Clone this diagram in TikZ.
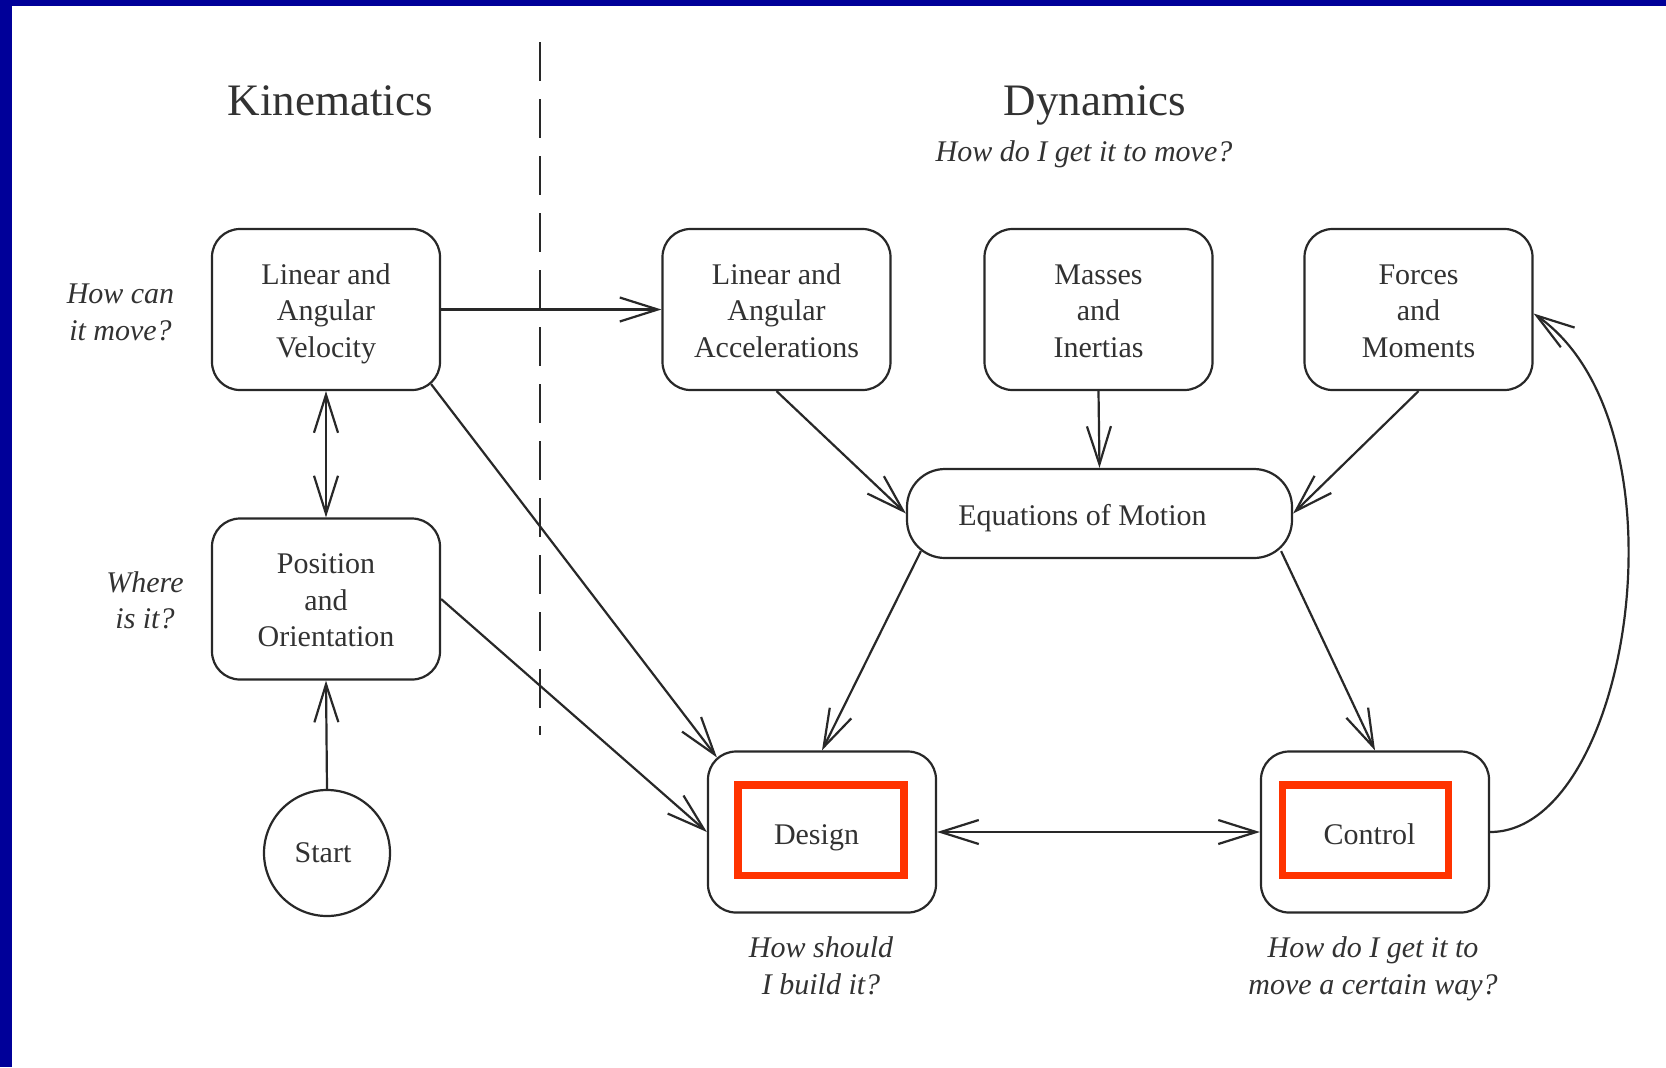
\documentclass[tikz,border=0pt]{standalone}
\usepackage{fontspec}
\setmainfont{Liberation Serif}
\usetikzlibrary{arrows.meta,calc}
\definecolor{frameblue}{RGB}{0,0,153}
\definecolor{hlred}{RGB}{255,51,0}
\definecolor{ink}{RGB}{40,40,40}
\definecolor{txt}{RGB}{50,50,50}
\newcommand{\boxfont}{\fontsize{15}{18.25}\selectfont}
\newcommand{\qfont}{\fontsize{15}{18.25}\selectfont\itshape}
\newcommand{\titlefont}{\fontsize{22.5}{27}\selectfont}
\newcommand{\fl}{\rule{0pt}{14.5pt}}
\newcommand{\lastl}{\rule[-3.3pt]{0pt}{3.3pt}}
\begin{document}
\begin{tikzpicture}[x=0.5pt,y=-0.5pt,
  box/.style={draw=ink, line width=1.1pt, rounded corners=14pt, minimum width=114pt,
    minimum height=80.5pt, inner sep=0pt, align=center, text=txt, font=\boxfont},
  eombox/.style={box, rounded corners=19pt, minimum width=192.5pt, minimum height=44.5pt,
    text height=15.5pt, text depth=3.3pt},
  onebox/.style={box, text height=12pt, text depth=0pt},
  startnode/.style={circle, draw=ink, line width=1.1pt, minimum size=63pt, inner sep=0pt,
    text=txt, font=\boxfont},
  hlbox/.style={draw=hlred, line width=3.85pt, minimum width=83pt, minimum height=45.25pt,
    inner sep=0pt},
  arr/.style={draw=ink, line width=1.1pt, -{Straight Barb[length=19pt,width=12pt]}},
  darr/.style={draw=ink, line width=1.1pt,
    {Straight Barb[length=19pt,width=12pt]}-{Straight Barb[length=19pt,width=12pt]}},
  qtext/.style={text=txt, font=\qfont, align=center, inner sep=0pt},
  titletext/.style={text=txt, font=\titlefont, inner sep=0pt, anchor=base},
  sep/.style={draw=ink, line width=1.1pt, dash pattern=on 19.5pt off 9pt}
]
\useasboundingbox (0,0) rectangle (1666,1067);
\fill[white] (0,0) rectangle (1666,1067);
\fill[frameblue] (0,0) rectangle (1666,6);
\fill[frameblue] (0,0) rectangle (12,1067);

% titles
\node[titletext] (kin) at (330,115) {Kinematics};
\node[titletext] (dyn) at (1095,115) {Dynamics};
\node[qtext, anchor=base] (dynq) at (1084,161) {How do I get it to move?};

% separator
\coordinate (septop) at (540,42);
\coordinate (sepbot) at (540,735);
\draw[sep] (septop) -- (sepbot);

% boxes
\node[box] (lav) at (326,309.5) {\fl Linear and\\Angular\\Velocity\lastl};
\node[box] (laa) at (776.5,309.5) {\fl Linear and\\Angular\\Accelerations\lastl};
\node[box] (mi) at (1098.5,309.5) {\fl Masses\\and\\Inertias\lastl};
\node[box] (fm) at (1418.5,309.5) {\fl Forces\\and\\Moments\lastl};
\node[box] (pos) at (326,599) {\fl Position\\and\\Orientation\lastl};
\node[eombox] (eom) at (1099.5,513.5) {\hspace*{-17pt}Equations of Motion};
\node[onebox] (design) at (822,832) {\hspace*{-5.5pt}Design};
\node[onebox] (control) at (1375,832) {\hspace*{-5.5pt}Control};
\node[startnode] (start) at (327,853) {\hspace*{-4pt}Start};

\node[hlbox] (designhl) at (821,830.25) {};
\node[hlbox] (controlhl) at (1365.6,830.25) {};

% question labels
\node[qtext] (qlav) at (120.5,312.5) {How can\\it move?};
\node[qtext] (qpos) at (145,600.5) {Where\\is it?};
\node[qtext] (qdesign) at (821,966) {How should\\I build it?};
\node[qtext] (qcontrol) at (1373,969) {How do I get it to\\move a certain way?};

% connectors
\draw[arr] (lav.east) -- (laa.west);
\draw[darr] (lav.south) -- (pos.north);
\draw[arr] (start.north) -- (pos.south);
\draw[arr] ($(lav.south east)+(-10,-7)$) -- ($(design.north west)+(10,7)$);
\draw[arr] (pos.east) -- (design.west);
\draw[arr] (laa.south) -- (eom.west);
\draw[arr] (mi.south) -- (eom.north);
\draw[arr] (fm.south) -- (eom.east);
\draw[arr] ($(eom.south west)+(15,-8)$) -- (design.north);
\draw[arr] ($(eom.south east)+(-12,-8)$) -- (control.north);
\draw[darr] (design.east) -- (control.west);
\draw[arr] (control.east) .. controls +(140,0) and +(160,112) .. ($(fm.east)+(0,4)$);
\end{tikzpicture}
\end{document}
